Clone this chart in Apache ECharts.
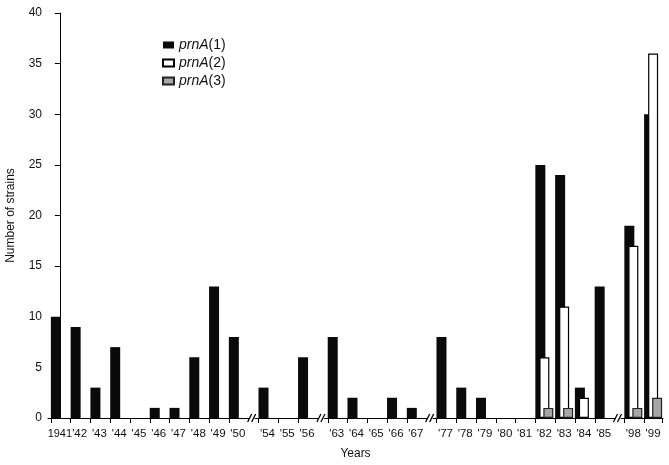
<!DOCTYPE html>
<html><head><meta charset="utf-8">
<script src="https://cdn.jsdelivr.net/npm/echarts@6/dist/echarts.min.js"></script>
<style>html,body{margin:0;padding:0;background:#fff}#c{width:669px;height:465px}</style>
</head><body><div id="c"></div>
<script>
const years = ['1941',"'42","'43","'44","'45","'46","'47","'48","'49","'50","'54","'55","'56","'63","'64","'65","'66","'67","'77","'78","'79","'80","'81","'82","'83","'84","'85","'98","'99"];
const breakAfter = ["'50","'56","'67","'85"];
const prnA1 = [10,9,3,7,0,1,1,6,13,8,3,0,6,8,2,0,2,1,8,3,2,0,0,25,24,3,13,19,30];
const prnA2 = [null,null,null,null,null,null,null,null,null,null,null,null,null,null,null,null,null,null,null,null,null,null,null,6,11,2,null,17,36];
const prnA3 = [null,null,null,null,null,null,null,null,null,null,null,null,null,null,null,null,null,null,null,null,null,null,null,1,1,null,null,1,2];
const yTicks = [0,5,10,15,20,25,30,35,40];
const seriesNames = ['prnA(1)','prnA(2)','prnA(3)'];

// category positions along the axis (breaks add half a slot)
const pos = [];
let off = 0;
years.forEach((y,i)=>{ pos.push(i+off); if(breakAfter.includes(y)) off += 0.5; });
const labelMap = {};
pos.forEach((p,i)=>{ labelMap[p.toFixed(2)] = years[i]; });
const tickVals = pos.map(p=>p-0.45).concat([pos[pos.length-1]+0.48]);

const toData = arr => arr.map((v,i)=>[pos[i], v]);

const chart = echarts.init(document.getElementById('c'));
const font = 'Liberation Sans, Arial, Helvetica, sans-serif';
chart.setOption({
  animation:false,
  backgroundColor:'#fff',
  textStyle:{fontFamily:font, color:'#111'},
  grid:{left:48, right:6, top:13, bottom:47, outerBoundsMode:'none', containLabel:false},
  legend:{
    orient:'vertical', left:157, top:33, itemWidth:11, itemHeight:7, itemGap:4,
    icon:'rect',
    data:seriesNames,
    formatter: n => n.replace('prnA','{i|prnA}'),
    textStyle:{fontSize:14, color:'#111', fontFamily:font,
      rich:{i:{fontStyle:'italic', fontSize:14, color:'#111', fontFamily:font}}}
  },
  xAxis:{
    type:'value', min:-0.6, max:30.5,
    name:'Years', nameLocation:'middle', nameGap:30,
    nameTextStyle:{fontSize:12, color:'#111'},
    axisLine:{show:true, lineStyle:{color:'#000', width:1}},
    axisTick:{show:true, length:5, customValues:tickVals, lineStyle:{color:'#000'}},
    axisLabel:{customValues:pos, margin:10, fontSize:11.5, color:'#111', hideOverlap:false,
      showMinLabel:true, showMaxLabel:true, minMargin:0,
      formatter: v => {
        const s = labelMap[Number(v).toFixed(2)] || '';
        return s === years[0] ? '{n|' + s + '}' : s;
      },
      rich:{n:{fontSize:11, color:'#111', fontFamily:"'Liberation Sans Narrow', 'Arial Narrow', 'Liberation Sans', Arial, sans-serif"}}
    },
    splitLine:{show:false}
  },
  yAxis:{
    type:'value', min:0, max:40, interval:5,
    name:'Number of strains', nameLocation:'middle', nameGap:31, nameRotate:90,
    nameTextStyle:{fontSize:12, color:'#111'},
    axisLine:{show:true, lineStyle:{color:'#000', width:1}},
    axisTick:{show:true, length:5, lineStyle:{color:'#000'}},
    axisLabel:{fontSize:12, color:'#111', margin:6},
    splitLine:{show:false}
  },
  series:[
    {name:seriesNames[0], type:'bar', data:toData(prnA1), barWidth:10, barGap:'-60%',
      itemStyle:{color:'#0a0a0a'}},
    {name:seriesNames[1], type:'bar', data:toData(prnA2), barWidth:10, barGap:'-60%',
      itemStyle:{color:'#ffffff', borderColor:'#000', borderWidth:1.2}},
    {name:seriesNames[2], type:'bar', data:toData(prnA3), barWidth:10, barGap:'-60%',
      itemStyle:{color:'#a6a6a6', borderColor:'#222', borderWidth:1.2}}
  ]
});

// axis break marks "//" placed via the axis scale
const gfx = [];
const y0 = chart.convertToPixel({yAxisIndex:0}, 0);
years.forEach((y,i)=>{
  if(breakAfter.includes(y) && i+1 < years.length){
    const x = chart.convertToPixel({xAxisIndex:0}, (pos[i]+pos[i+1])/2);
    gfx.push({type:'rect', shape:{x:x-3, y:y0-2, width:5, height:4}, style:{fill:'#fff'}, z:100});
    gfx.push({type:'line', shape:{x1:x-5, y1:y0+4, x2:x-1, y2:y0-4}, style:{stroke:'#000', lineWidth:1.3}, z:101});
    gfx.push({type:'line', shape:{x1:x-1, y1:y0+4, x2:x+3, y2:y0-4}, style:{stroke:'#000', lineWidth:1.3}, z:101});
  }
});
chart.setOption({graphic:gfx});
</script>
</body></html>
